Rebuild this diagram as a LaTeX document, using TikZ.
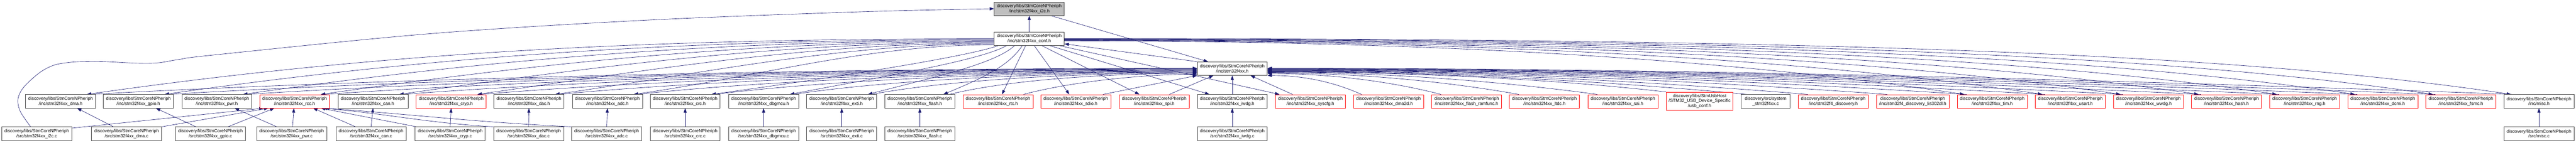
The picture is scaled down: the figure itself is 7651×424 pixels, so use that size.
\documentclass[tikz,border=0pt]{standalone}
\usepackage{fontspec}
\setmainfont{Liberation Sans}
\usetikzlibrary{arrows.meta}
\definecolor{navyc}{HTML}{191970}
\definecolor{bordc}{HTML}{404040}
\definecolor{subjc}{HTML}{BFBFBF}
\pgfdeclarelayer{bg}
\pgfsetlayers{bg,main}
\begin{document}
\begin{tikzpicture}[x=1pt,y=1pt,
  box/.style={draw=bordc, line width=1.2pt, fill=white, rectangle, minimum width=208pt, minimum height=40pt, inner sep=0pt, align=center, font=\fontsize{13.33}{15}\selectfont},
  rbox/.style={box, draw=red, line width=1pt},
  lnk/.style={draw=navyc, line width=1pt, -{Triangle[length=13pt,width=9pt]}}]
\useasboundingbox (0,0) rectangle (7651,424);
\def\pre{discovery/libs/StmCoreNPheriph\\}
% top nodes
\node[box, fill=subjc] (i2ch) at (3057,398) {\pre/inc/stm32f4xx\_i2c.h};
\node[box] (conf) at (3057,308.5) {\pre/inc/stm32f4xx\_conf.h};
\node[box] (stm) at (3660,220) {\pre/inc/stm32f4xx.h};
% header row, black
\foreach \n/\x/\t in {dmah/180/dma, gpioh/411/gpio, pwrh/644/pwr, canh/1108/can, dach/1571/dac, adch/1804/adc, crch/2035/crc, dbgh/2268/dbgmcu, extih/2500/exti, flashh/2732/flash, iwdgh/3660/iwdg}{
  \node[box] (\n) at (\x,122.7) {\pre/inc/stm32f4xx\_\t.h};
}
% header row, red
\foreach \n/\x/\t in {rcch/875/rcc, cryph/1340/cryp, rtch/2964/rtc, sdioh/3195/sdio, spih/3428/spi, syscfgh/3892/syscfg, dmadh/4124/dma2d, ramh/4356/flash\_ramfunc, ltdch/4587/ltdc, saih/4820/sai, timh/5917/tim, usarth/6149/usart, wwdgh/6381/wwdg, hashh/6613/hash, rngh/6845/rng, dcmih/7077/dcmi, fsmch/7309/fsmc}{
  \node[rbox] (\n) at (\x,122.7) {\pre/inc/stm32f4xx\_\t.h};
}
\node[rbox, minimum width=198pt, minimum height=54pt] (usbh) at (5048,123) {discovery/libs/StmUsbHost\\/STM32\_USB\_Device\_Specific\\/usb\_conf.h};
\node[box, minimum width=146pt] (sysc) at (5244,122.7) {discovery/src/system\\\_stm32f4xx.c};
\node[rbox] (disch) at (5445,122.7) {\pre/inc/stm32f4\_discovery.h};
\node[rbox, minimum width=216pt] (lish) at (5681,122.7) {\pre/inc/stm32f4\_discovery\_lis302dl.h};
\node[box] (misch) at (7541,122.7) {\pre/inc/misc.h};
% source row
\foreach \n/\x/\t in {i2cc/109/i2c, dmac/376/dma, gpioc/625/gpio, pwrc/866/pwr, canc/1102/can, crypc/1337/cryp, dacc/1570/dac, adcc/1802/adc, crcc/2035/crc, dbgc/2268/dbgmcu, extic/2500/exti, flashc/2732/flash, iwdgc/3660/iwdg}{
  \node[box] (\n) at (\x,26.3) {\pre/src/stm32f4xx\_\t.c};
}
\node[box] (miscc) at (7541,26.3) {\pre/src/misc.c};

\begin{pgfonlayer}{bg}
% subject links
\draw[lnk] (conf.north) -- (i2ch.south);
\draw[lnk] ([xshift=64pt]i2ch.south) -- ([xshift=-72pt]stm.north);
\draw[lnk] (stm.north west) -- ([yshift=-15pt]conf.east);
\draw[lnk] plot[smooth, tension=0.55] coordinates {([xshift=-18pt]i2cc.north) (61,91) (53,124) (61,151) (82,177) (122,211) (163,231) (212,239) (253,241) (306,241) (408,236) (469,237) (531,247) (640,261) (1280,324) (1920,364) (2560,389) (i2ch.west)};
% conf -> far left headers
\foreach \n/\x/\s in {dmah/180/0, gpioh/411/-2.5, pwrh/644/-5, rcch/875/-7.5, canh/1108/-10, cryph/1340/-12.5, dach/1571/-15, adch/1804/-17.5}{
  \pgfmathsetmacro\D{2953-\x-78}
  \draw[lnk] ([yshift=\s pt]conf.west) .. controls +(-0.35*\D,0) and +(0.35*\D,0.05*\D) .. ([xshift=78pt]\n.north);
}
\draw[lnk] ([xshift=-93pt]conf.south) .. controls +(-100,-35) and +(330,45) .. ([xshift=78pt]crch.north);
\draw[lnk] ([xshift=-68pt]conf.south) .. controls +(-80,-45) and +(260,50) .. ([xshift=78pt]dbgh.north);
\draw[lnk] ([xshift=-44pt]conf.south) .. controls +(-60,-55) and +(190,50) .. ([xshift=78pt]extih.north);
\draw[lnk] ([xshift=-21pt]conf.south) .. controls +(-40,-60) and +(120,50) .. ([xshift=70pt]flashh.north);
\draw[lnk] ([xshift=-11pt]conf.south) -- ([xshift=12pt]rtch.north);
\draw[lnk] ([xshift=15pt]conf.south) -- ([xshift=-19pt]sdioh.north);
\draw[lnk] ([xshift=38pt]conf.south) -- ([xshift=-44pt]spih.north);
\draw[lnk] ([xshift=62pt]conf.south) -- ([xshift=-68pt]iwdgh.north);
\draw[lnk] ([xshift=91pt]conf.south) -- ([xshift=-92pt]syscfgh.north);
% left headers -> stm32f4xx.h
\foreach \n/\x/\s in {dmah/180/1, gpioh/411/0, pwrh/644/-1, rcch/875/-2.5, canh/1108/-4, cryph/1340/-5.5, dach/1571/-7, adch/1804/-8.5, crch/2035/-10, dbgh/2268/-11.5, extih/2500/-13, flashh/2732/-14.5}{
  \pgfmathsetmacro\D{3556-\x-88}
  \draw[lnk] ([xshift=88pt]\n.north) .. controls +(0.25*\D,45) and +(-0.35*\D,0) .. ([yshift=\s pt]stm.west);
}
\draw[lnk] ([xshift=76pt]rtch.north) .. controls +(150,40) and +(-150,0) .. ([yshift=-17pt]stm.west);
\draw[lnk] ([xshift=81pt]sdioh.north) -- (stm.south west);
\draw[lnk] ([xshift=45pt]spih.north) -- ([xshift=-56pt]stm.south);
\draw[lnk] (iwdgh.north) -- (stm.south);
\draw[lnk] ([xshift=-53pt]syscfgh.north) -- ([xshift=54pt]stm.south);
% conf -> right headers
\foreach \n/\x/\s in {timh/5917/-6, usarth/6149/-5, wwdgh/6381/-4, hashh/6613/-3, rngh/6845/-2, dcmih/7077/-1, fsmch/7309/0, misch/7541/1}{
  \pgfmathsetmacro\D{\x-83-3161}
  \draw[lnk] ([yshift=\s pt]conf.east) .. controls +(0.5*\D,0) and +(-0.2*\D,0.03*\D) .. ([xshift=-83pt]\n.north);
}
% right headers -> stm32f4xx.h
\foreach \n/\x/\s in {ramh/4356/-15, ltdch/4587/-13, saih/4820/-11, disch/5445/-8, lish/5681/-7, timh/5917/-6, usarth/6149/-5, wwdgh/6381/-4, hashh/6613/-3, rngh/6845/-2, dcmih/7077/-1, fsmch/7309/0, misch/7541/1}{
  \pgfmathsetmacro\D{\x-76-3764}
  \draw[lnk] ([xshift=-76pt]\n.north) .. controls +(-0.3*\D,40) and +(0.35*\D,0) .. ([yshift=\s pt]stm.east);
}
\draw[lnk] ([xshift=-80pt]dmadh.north) .. controls +(-90,40) and +(100,0) .. (stm.south east);
\draw[lnk] (usbh.north west) .. controls +(-350,40) and +(400,0) .. ([yshift=-10pt]stm.east);
\draw[lnk] ([xshift=-55pt]sysc.north) .. controls +(-420,40) and +(480,0) .. ([yshift=-9pt]stm.east);
% sources -> headers
\draw[lnk] ([xshift=-39pt]dmac.north) -- ([xshift=49pt]dmah.south);
\draw[lnk] ([xshift=-43pt]gpioc.north) -- ([xshift=52pt]gpioh.south);
\draw[lnk] ([xshift=-44pt]pwrc.north) -- ([xshift=53pt]pwrh.south);
\foreach \a/\b in {canc/canh, crypc/cryph, dacc/dach, adcc/adch, crcc/crch, dbgc/dbgh, extic/extih, flashc/flashh, iwdgc/iwdgh, miscc/misch}{
  \draw[lnk] (\a.north) -- (\b.south);
}
% sources -> rcc.h
\draw[lnk] ([yshift=-4pt]i2cc.north east) -- ([xshift=-92pt]rcch.south);
\draw[lnk] (dmac.north east) -- ([xshift=-78pt]rcch.south);
\draw[lnk] ([xshift=52pt]gpioc.north) -- ([xshift=-60pt]rcch.south);
\draw[lnk] ([xshift=3pt]pwrc.north) -- ([xshift=-2pt]rcch.south);
\draw[lnk] ([xshift=-46pt]canc.north) -- ([xshift=55pt]rcch.south);
\draw[lnk] ([xshift=-100pt]crypc.north) -- ([xshift=78pt]rcch.south);
\draw[lnk] (dacc.north west) .. controls +(-200,12) and +(200,-18) .. ([xshift=84pt]rcch.south);
\draw[lnk] (adcc.north west) .. controls +(-300,15) and +(300,-22) .. ([xshift=90pt]rcch.south);
\end{pgfonlayer}
\end{tikzpicture}
\end{document}
